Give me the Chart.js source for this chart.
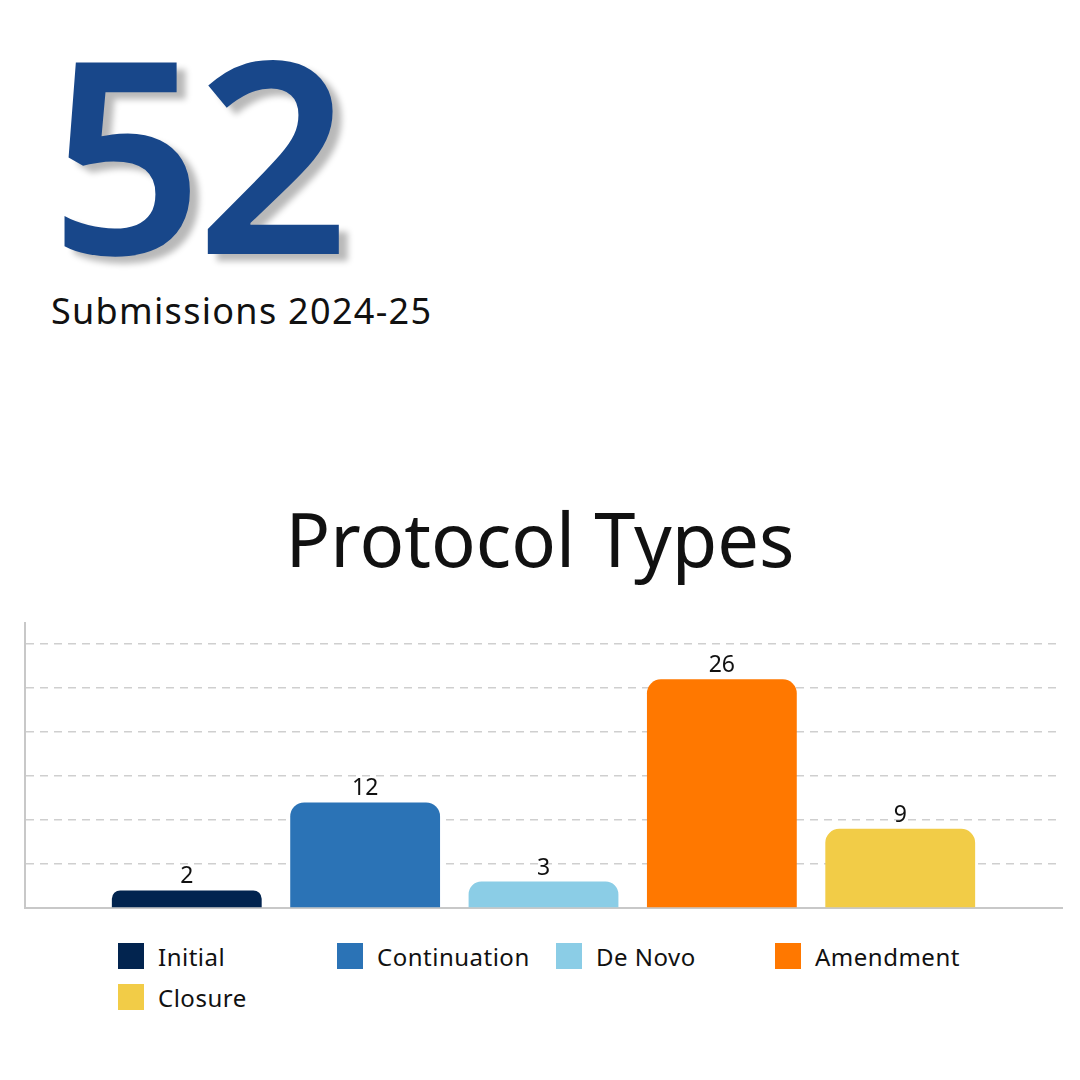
<!DOCTYPE html>
<html>
<head>
<meta charset="utf-8">
<script src="https://cdn.jsdelivr.net/npm/chart.js"></script>
<style>
  html, body { margin: 0; padding: 0; background: #fff; }
  body { width: 1080px; height: 1080px; position: relative; overflow: hidden; font-family: "Noto Sans", Lato, sans-serif; }
  #bigNum { position: absolute; left: 50px; top: 17px; font-size: 268px; font-weight: 600; color: #18478a;
    letter-spacing: -7px; line-height: 1; text-shadow: 9px 7px 6px rgba(0,0,0,0.28); }
  #subTitle { position: absolute; left: 51px; top: 286px; font-size: 36px; color: #111; letter-spacing: 1.3px; }
  #chartTitle { position: absolute; left: 0; width: 1080px; top: 488px; text-align: center; font-size: 74px; color: #111; }
  #chartBox { position: absolute; left: 0; top: 600px; width: 1080px; height: 320px; }
  #legend { position: absolute; left: 118px; top: 942px; width: 900px; }
  .item { position: absolute; display: flex; align-items: center; font-size: 24px; color: #111; height: 28px; letter-spacing: 0.5px; }
  .item span.box { width: 26px; height: 26px; margin-right: 14px; display: inline-block; }
</style>
</head>
<body>
<div id="bigNum">52</div>
<div id="subTitle">Submissions 2024-25</div>
<div id="chartTitle">Protocol Types</div>
<div id="chartBox"><canvas id="myChart"></canvas></div>
<div id="legend"></div>
<script>
// 데이터
const categories = ['Protocol Types'];
const seriesLabels = ['Initial', 'Continuation', 'De Novo', 'Amendment', 'Closure'];
const seriesValues = [2, 12, 3, 26, 9];
const seriesColors = ['#02244f', '#2b73b6', '#8bcde6', '#ff7800', '#f2cc47'];
const gridTicks = [0, 5, 10, 15, 20, 25, 30];

// 막대 위에 값 표시
const valueLabels = {
    id: 'valueLabels',
    afterDatasetsDraw(chart) {
        const ctx = chart.ctx;
        ctx.save();
        ctx.font = '23px "Noto Sans", Lato, sans-serif';
        ctx.fillStyle = '#111';
        ctx.textAlign = 'center';
        ctx.textBaseline = 'alphabetic';
        chart.data.datasets.forEach((ds, i) => {
            const meta = chart.getDatasetMeta(i);
            meta.data.forEach((bar, j) => {
                ctx.fillText(String(ds.data[j]), bar.x, bar.y - 7);
            });
        });
        ctx.restore();
    }
};

const ctx = document.getElementById('myChart').getContext('2d');
const chart = new Chart(ctx, {
    type: 'bar',
    data: {
        labels: categories,
        datasets: seriesLabels.map((label, i) => ({
            label: label,
            data: [seriesValues[i]],
            backgroundColor: seriesColors[i],
            borderRadius: { topLeft: 14, topRight: 14 },
            borderSkipped: 'bottom',
            categoryPercentage: 0.86,
            barPercentage: 0.84,
        })),
    },
    options: {
        responsive: true,
        maintainAspectRatio: false,
        animation: false,
        layout: { padding: { left: 25, right: 18, top: 23, bottom: 12 } },
        plugins: {
            legend: { display: false },
            tooltip: { enabled: false },
        },
        scales: {
            x: {
                grid: { display: false, drawTicks: false },
                border: { display: true, color: '#c8c8c8', width: 2 },
                ticks: { display: false },
            },
            y: {
                min: 0,
                max: 32.4,
                afterBuildTicks: (axis) => {
                    axis.ticks = gridTicks.map(v => ({ value: v })).concat([{ value: 32.4 }]);
                },
                grid: {
                    drawTicks: false,
                    color: (c) => (c.tick && gridTicks.includes(c.tick.value) && c.tick.value > 0) ? '#cfcfcf' : 'rgba(0,0,0,0)',
                    lineWidth: 1.5,
                },
                border: { display: true, color: '#c8c8c8', width: 2, dash: [8, 6] },
                ticks: { display: false },
            },
        },
    },
    plugins: [valueLabels],
});

// 범례 (데이터셋에서 생성)
const legendEl = document.getElementById('legend');
chart.data.datasets.forEach((ds, i) => {
    const item = document.createElement('div');
    item.className = 'item';
    item.style.left = (i % 4) * 219 + 'px';
    item.style.top = Math.floor(i / 4) * 41 + 'px';
    item.innerHTML = `<span class="box" style="background:${ds.backgroundColor}"></span>${ds.label}`;
    legendEl.appendChild(item);
});
</script>
</body>
</html>
